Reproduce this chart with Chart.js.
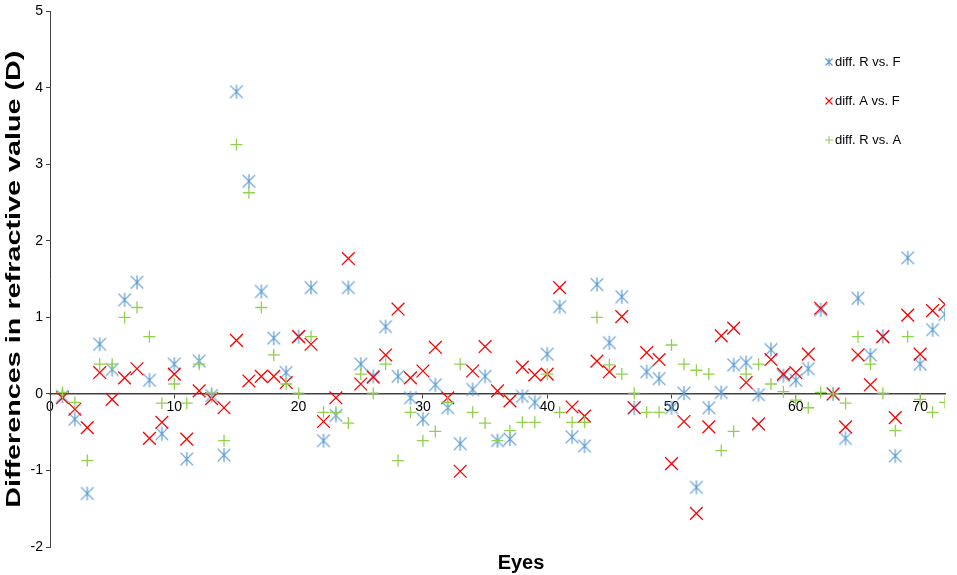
<!DOCTYPE html>
<html>
<head>
<meta charset="utf-8">
<script src="https://cdn.jsdelivr.net/npm/chart.js@4/dist/chart.umd.min.js"></script>
<style>
html, body { margin: 0; padding: 0; background: #fff; }
#wrap { width: 957px; height: 575px; position: relative; }
</style>
</head>
<body>
<div id="wrap"><canvas id="myCanvas"></canvas></div>
<script>
// eye number (x) and the three difference series (y, dioptres)
var eyes = [1, 2, 3, 4, 5, 6, 7, 8, 9, 10, 11, 12, 13, 14, 15, 16, 17, 18, 19, 20,
    21, 22, 23, 24, 25, 26, 27, 28, 29, 30, 31, 32, 33, 34, 35, 36, 37, 38, 39, 40,
    41, 42, 43, 44, 45, 46, 47, 48, 49, 50, 51, 52, 53, 54, 55, 56, 57, 58, 59, 60,
    61, 62, 63, 64, 65, 66, 67, 68, 69, 70, 71, 72];

var diffRF = [-0.03, -0.33, -1.30, 0.65, 0.32, 1.23, 1.46, 0.18, -0.52, 0.39,
    -0.85, 0.43, -0.02, -0.80, 3.95, 2.78, 1.34, 0.73, 0.28, 0.75,
    1.39, -0.61, -0.28, 1.39, 0.39, 0.23, 0.88, 0.23, -0.05, -0.33,
    0.12, -0.18, -0.65, 0.06, 0.23, -0.61, -0.59, -0.03, -0.11, 0.52,
    1.14, -0.56, -0.68, 1.43, 0.67, 1.27, -0.18, 0.29, 0.20, -0.18,
    0.01, -1.22, -0.18, 0.02, 0.38, 0.41, -0.01, 0.58, 0.24, 0.18,
    0.33, 1.10, 0.00, -0.58, 1.25, 0.51, 0.75, -0.81, 1.78, 0.39,
    0.84, 1.04];

var diffAF = [-0.05, -0.20, -0.44, 0.28, -0.07, 0.21, 0.33, -0.58, -0.37, 0.26,
    -0.59, 0.04, -0.06, -0.18, 0.70, 0.17, 0.23, 0.23, 0.15, 0.75,
    0.65, -0.36, -0.05, 1.77, 0.13, 0.22, 0.51, 1.11, 0.21, 0.30,
    0.61, -0.05, -1.01, 0.30, 0.62, 0.04, -0.09, 0.35, 0.25, 0.26,
    1.39, -0.17, -0.29, 0.43, 0.29, 1.01, -0.18, 0.54, 0.45, -0.91,
    -0.36, -1.56, -0.43, 0.76, 0.86, 0.15, -0.39, 0.45, 0.26, 0.28,
    0.52, 1.12, 0.00, -0.43, 0.51, 0.12, 0.75, -0.31, 1.03, 0.52,
    1.09, 1.17];

var diffRA = [0.02, -0.11, -0.87, 0.39, 0.39, 1.00, 1.13, 0.75, -0.12, 0.13,
    -0.12, 0.39, 0.01, -0.61, 3.26, 2.63, 1.13, 0.51, 0.13, 0.01,
    0.75, -0.24, -0.24, -0.38, 0.26, 0.01, 0.39, -0.87, -0.24, -0.61,
    -0.49, -0.11, 0.39, -0.24, -0.38, -0.61, -0.48, -0.37, -0.37, 0.26,
    -0.24, -0.37, -0.37, 1.00, 0.38, 0.26, 0.01, -0.24, -0.24, 0.64,
    0.39, 0.31, 0.26, -0.74, -0.49, 0.26, 0.39, 0.13, 0.03, -0.08,
    -0.18, 0.02, 0.00, -0.12, 0.75, 0.39, 0.01, -0.48, 0.75, -0.07,
    -0.24, -0.11];

var seriesLabels = ['diff. R vs. F', 'diff. A vs. F', 'diff. R vs. A'];
var seriesColors = ['#5B9BD5', '#FF0000', '#92D050'];
var xTitle = 'Eyes';
var yTitle = 'Differences in refractive value (D)';

var xMin = 0, xMax = 72, xStep = 10;
var yMin = -2, yMax = 5, yStep = 1;

function toPoints(vals) {
    var pts = [];
    for (var i = 0; i < eyes.length; i++) {
        pts.push({ x: eyes[i], y: vals[i] });
    }
    return pts;
}

// excel style asterisk: an x with a vertical bar
function asterisk(size, color, lw) {
    var c = document.createElement('canvas');
    c.width = size;
    c.height = size;
    var g = c.getContext('2d');
    var m = size / 2, r = size / 2 - 1;
    g.strokeStyle = color;
    g.lineWidth = lw;
    g.beginPath();
    g.moveTo(m - r * 0.9, m - r * 0.9); g.lineTo(m + r * 0.9, m + r * 0.9);
    g.moveTo(m + r * 0.9, m - r * 0.9); g.lineTo(m - r * 0.9, m + r * 0.9);
    g.moveTo(m, m - r); g.lineTo(m, m + r);
    g.stroke();
    return c;
}

var blueStar = asterisk(16, seriesColors[0], 1.2);

// legend inside the plot (top right) and the two axis titles
var extrasPlugin = {
    id: 'extras',
    afterDraw: function (chart) {
        var ctx = chart.ctx;
        var area = chart.chartArea;
        var ys = [62, 101, 140];
        ctx.save();
        ctx.font = '13px Arial, "Liberation Sans"';
        ctx.fillStyle = '#000';
        ctx.textBaseline = 'middle';
        for (var i = 0; i < 3; i++) {
            var mx = 829, my = ys[i];
            ctx.strokeStyle = seriesColors[i];
            ctx.lineWidth = 1.1;
            ctx.beginPath();
            if (i === 0) {
                ctx.moveTo(mx - 3.5, my - 3.5); ctx.lineTo(mx + 3.5, my + 3.5);
                ctx.moveTo(mx + 3.5, my - 3.5); ctx.lineTo(mx - 3.5, my + 3.5);
                ctx.moveTo(mx, my - 4); ctx.lineTo(mx, my + 4);
            } else if (i === 1) {
                ctx.moveTo(mx - 3.5, my - 3.5); ctx.lineTo(mx + 3.5, my + 3.5);
                ctx.moveTo(mx + 3.5, my - 3.5); ctx.lineTo(mx - 3.5, my + 3.5);
            } else {
                ctx.moveTo(mx - 4, my); ctx.lineTo(mx + 4, my);
                ctx.moveTo(mx, my - 4); ctx.lineTo(mx, my + 4);
            }
            ctx.stroke();
            ctx.fillText(seriesLabels[i], 835, my);
        }

        // axis titles
        ctx.font = 'bold 20px Arial, "Liberation Sans"';
        ctx.textAlign = 'center';
        ctx.fillText(xTitle, 521, 563);

        ctx.translate(14, (area.top + area.bottom) / 2);
        ctx.rotate(-Math.PI / 2);
        ctx.scale(1.37, 1);
        ctx.font = 'bold 21px Arial, "Liberation Sans"';
        ctx.fillText(yTitle, 0, 0);
        ctx.restore();
    }
};

var tickFont = { family: 'Arial, "Liberation Sans"', size: 14 };

var ctx = document.getElementById('myCanvas').getContext('2d');
var myChart = new Chart(ctx, {
    type: 'scatter',
    data: {
        datasets: [{
            label: seriesLabels[0],
            data: toPoints(diffRF),
            pointStyle: blueStar,
            borderColor: seriesColors[0],
            backgroundColor: 'transparent',
            order: 3
        },
        {
            label: seriesLabels[1],
            data: toPoints(diffAF),
            pointStyle: 'crossRot',
            pointRadius: 9,
            pointBorderWidth: 1.3,
            borderColor: seriesColors[1],
            backgroundColor: 'transparent',
            order: 2
        },
        {
            label: seriesLabels[2],
            data: toPoints(diffRA),
            pointStyle: 'cross',
            pointRadius: 6,
            pointBorderWidth: 1.3,
            borderColor: seriesColors[2],
            backgroundColor: 'transparent',
            order: 1
        }]
    },
    options: {
        responsive: true,
        maintainAspectRatio: false,
        animation: false,
        layout: { padding: { top: -1.5, right: 12, bottom: 0, left: 0 } },
        plugins: {
            legend: { display: false },
            tooltip: { enabled: false }
        },
        scales: {
            x: {
                type: 'linear',
                position: 'bottom',
                min: xMin,
                max: xMax,
                ticks: { display: false },
                grid: { display: false },
                border: { display: false },
                afterFit: function (scale) { scale.height = 28; }
            },
            xZero: {
                type: 'linear',
                position: { y: 0 },
                min: xMin,
                max: xMax,
                ticks: {
                    stepSize: xStep,
                    includeBounds: false,
                    color: '#000',
                    font: tickFont,
                    padding: 1,
                    maxRotation: 0
                },
                grid: { drawOnChartArea: false, tickLength: 4, color: '#404040' },
                border: { color: '#404040', width: 1.5 }
            },
            y: {
                type: 'linear',
                min: yMin,
                max: yMax,
                ticks: {
                    stepSize: yStep,
                    color: '#000',
                    font: tickFont,
                    padding: 3
                },
                grid: { drawOnChartArea: false, tickLength: 4, color: '#404040' },
                border: { color: '#404040', width: 1 },
                afterFit: function (scale) { scale.width = 50; }
            }
        }
    },
    plugins: [extrasPlugin]
});
</script>
</body>
</html>
